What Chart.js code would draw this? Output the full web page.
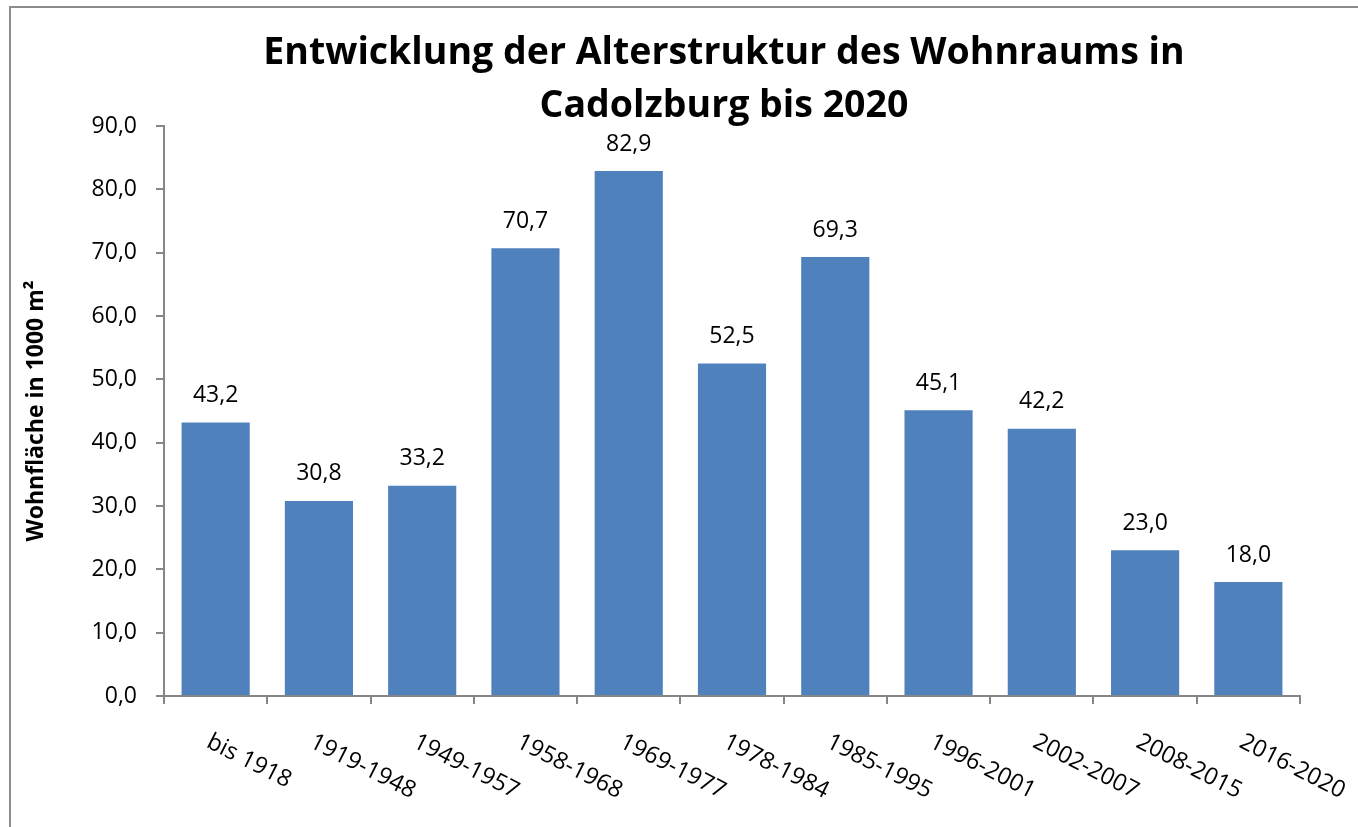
<!DOCTYPE html>
<html>
<head>
<meta charset="utf-8">
<script src="https://cdn.jsdelivr.net/npm/chart.js@4.4.1/dist/chart.umd.min.js"></script>
<style>
  html, body { margin: 0; padding: 0; background: #fff; }
  #wrap { position: relative; width: 1358px; height: 827px; overflow: hidden; }
  #frame { position: absolute; left: 9px; top: 6px; width: 1400px; height: 900px;
           border-top: 2px solid #8c8c8c; border-left: 2px solid #8c8c8c; }
  canvas { position: absolute; left: 0; top: 0; }
</style>
</head>
<body>
<div id="wrap">
  <div id="frame"></div>
  <canvas id="chartWohnraum" width="1358" height="827"></canvas>
</div>
<script>
// chart data
const categories = ['bis 1918', '1919-1948', '1949-1957', '1958-1968', '1969-1977', '1978-1984',
                    '1985-1995', '1996-2001', '2002-2007', '2008-2015', '2016-2020'];
const wohnflaeche = [43.2, 30.8, 33.2, 70.7, 82.9, 52.5, 69.3, 45.1, 42.2, 23.0, 18.0];
const yMin = 0;
const yMax = 90;
const yStep = 10;
const titleLines = ['Entwicklung der Alterstruktur des Wohnraums in', 'Cadolzburg bis 2020'];
const yAxisTitle = 'Wohnfläche in 1000 m²';

const FONT = "'Open Sans', sans-serif";
const fmt = (v) => v.toFixed(1).replace('.', ',');

// draws title, value labels and the slanted category labels
const extras = {
  id: 'extras',
  afterDraw(chart) {
    const ctx = chart.ctx;
    const area = chart.chartArea;
    const xScale = chart.scales.x;
    ctx.save();

    // title
    ctx.fillStyle = '#000';
    ctx.font = 'bold 37.5px ' + FONT;
    ctx.textAlign = 'center';
    ctx.textBaseline = 'middle';
    const cx = (area.left + area.right) / 2 - 8;
    ctx.fillText(titleLines[0], cx, 53);
    ctx.fillText(titleLines[1], cx, 106);

    // values above bars
    ctx.font = '23px ' + FONT;
    const meta = chart.getDatasetMeta(0);
    meta.data.forEach((bar, i) => {
      ctx.fillText(fmt(wohnflaeche[i]), bar.x, bar.y - 27);
    });

    // category labels, rotated clockwise
    ctx.font = '23.5px ' + FONT;
    ctx.textAlign = 'left';
    ctx.textBaseline = 'top';
    categories.forEach((c, i) => {
      const x = xScale.getPixelForValue(i);
      ctx.save();
      ctx.translate(x - 2, xScale.top + 34);
      ctx.rotate(27 * Math.PI / 180);
      ctx.fillText(c, 0, 0);
      ctx.restore();
    });
    ctx.restore();
  }
};

let myChart = document.getElementById('chartWohnraum').getContext('2d');

let chart = new Chart(myChart, {
  type: 'bar',
  data: {
    labels: categories,
    datasets: [{
      label: 'Wohnfläche',
      data: wohnflaeche,
      backgroundColor: '#4f81bd',
      borderWidth: 0,
      categoryPercentage: 0.66,
      barPercentage: 1.0,
    }]
  },
  options: {
    responsive: false,
    animation: false,
    layout: {
      padding: { top: 126, right: 58, bottom: 0, left: 23 }
    },
    plugins: {
      legend: { display: false },
      title: { display: false },
      tooltip: { enabled: false },
    },
    scales: {
      x: {
        grid: {
          drawOnChartArea: false,
          drawTicks: true,
          tickLength: 8,
          color: '#868686',
          lineWidth: 2,
        },
        border: { color: '#868686', width: 2 },
        ticks: { display: false },
        afterFit(scale) { scale.height = 131; },
      },
      y: {
        min: yMin,
        max: yMax,
        ticks: {
          stepSize: yStep,
          padding: 19,
          color: '#000',
          font: { family: FONT, size: 23 },
          callback: function(value) { return fmt(value); }
        },
        grid: {
          drawOnChartArea: false,
          drawTicks: true,
          tickLength: 8,
          color: '#868686',
          lineWidth: 2,
        },
        border: { color: '#868686', width: 2 },
        title: {
          display: true,
          text: yAxisTitle,
          color: '#000',
          font: { family: FONT, size: 23, weight: 'bold' },
          padding: { top: 0, bottom: 22 },
        }
      }
    }
  },
  plugins: [extras]
});
</script>
</body>
</html>
